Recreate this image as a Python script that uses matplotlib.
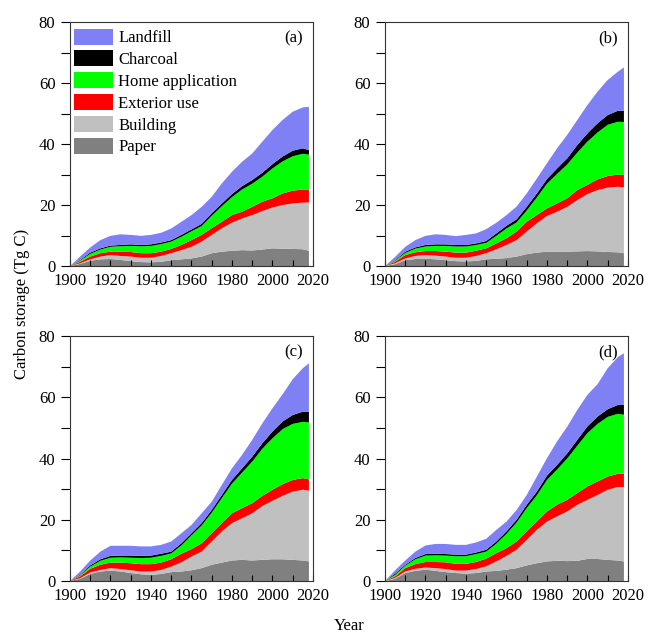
import matplotlib
matplotlib.use("Agg")
import matplotlib.pyplot as plt
import numpy as np
from matplotlib.ticker import MultipleLocator

plt.rcParams['font.family'] = ['Liberation Serif', 'DejaVu Serif']
plt.rcParams['font.size'] = 12

years = [1900, 1905, 1910, 1915, 1920, 1925, 1930, 1935, 1940, 1945, 1950, 1955,
         1960, 1965, 1970, 1975, 1980, 1985, 1990, 1995, 2000, 2005, 2010, 2015, 2018]

labels = ['Paper', 'Building', 'Exterior use', 'Home application', 'Charcoal', 'Landfill']
colors = ['#808080', '#c0c0c0', '#ff0000', '#00ff00', '#000000', '#8080f5']
panel_names = ['(a)', '(b)', '(c)', '(d)']

# stacked (cumulative) top of each layer, Tg C
# panel (a)
paper_a = [0, 0.7, 1.7, 2.2, 2.3, 2.0, 1.6, 1.3, 1.2, 1.4, 1.9, 2.2, 2.5, 3.1, 4.2, 4.7, 5.0, 5.2, 5.1, 5.4, 5.8, 5.7, 5.6, 5.5, 5.0]
building_a = [0, 0.9, 2.2, 3.1, 3.6, 3.3, 3.1, 2.7, 2.7, 3.3, 4.2, 5.2, 6.3, 8.0, 10.2, 12.4, 14.2, 15.6, 16.7, 18.0, 19.2, 20.0, 20.5, 20.8, 20.8]
exterior_a = [0, 1.4, 3.1, 4.2, 4.7, 4.7, 4.6, 4.2, 4.2, 4.7, 5.6, 6.9, 8.5, 10.2, 12.4, 14.5, 16.7, 17.8, 19.4, 21.1, 22.2, 23.8, 24.7, 25.1, 24.9]
home_a = [0, 1.8, 4.0, 5.4, 6.3, 6.5, 6.6, 6.5, 6.6, 7.2, 8.0, 9.6, 11.4, 13.1, 16.5, 19.6, 22.6, 25.1, 27.0, 29.3, 32.0, 34.3, 36.0, 36.8, 36.5]
charcoal_a = [0, 2.0, 4.4, 5.8, 6.7, 6.9, 7.1, 6.9, 7.1, 7.7, 8.5, 10.2, 12.0, 13.8, 17.3, 20.5, 23.6, 26.2, 28.2, 30.6, 33.4, 35.9, 37.8, 38.6, 38.0]
landfill_a = [0, 3.1, 6.1, 8.5, 9.9, 10.4, 10.2, 9.9, 10.2, 10.9, 12.3, 14.5, 16.7, 19.4, 22.7, 27.1, 30.9, 34.2, 36.9, 40.8, 44.6, 47.9, 50.6, 52.0, 52.2]

# panel (b)
paper_b = [0, 0.6, 1.9, 2.3, 2.4, 2.2, 1.9, 1.6, 1.5, 1.7, 2.2, 2.4, 2.6, 3.1, 3.9, 4.4, 4.7, 4.6, 4.7, 4.8, 4.9, 4.8, 4.6, 4.5, 4.2]
building_b = [0, 0.9, 2.5, 3.3, 3.6, 3.4, 3.1, 2.7, 2.7, 3.3, 4.2, 5.5, 6.9, 8.5, 11.3, 14.0, 16.4, 17.8, 19.4, 21.6, 23.6, 24.9, 25.7, 26.0, 25.8]
exterior_b = [0, 1.4, 3.6, 4.5, 4.9, 4.9, 4.7, 4.4, 4.4, 5.0, 5.8, 7.4, 9.1, 11.3, 14.5, 16.7, 18.9, 20.5, 22.2, 24.9, 26.6, 28.4, 29.5, 30.0, 29.8]
home_b = [0, 1.7, 4.3, 5.7, 6.4, 6.6, 6.6, 6.4, 6.4, 6.9, 7.6, 9.9, 12.3, 14.3, 18.2, 22.5, 27.0, 30.2, 33.3, 37.2, 40.8, 43.8, 46.3, 47.3, 47.2]
charcoal_b = [0, 1.9, 4.7, 6.1, 6.9, 7.1, 7.1, 6.9, 6.9, 7.4, 8.2, 10.7, 13.2, 15.3, 19.4, 23.8, 28.5, 32.0, 35.3, 39.7, 43.5, 46.8, 49.5, 50.9, 50.9]
landfill_b = [0, 3.0, 6.3, 8.5, 9.9, 10.4, 10.2, 9.8, 10.2, 10.7, 12.1, 14.2, 16.7, 19.5, 23.8, 28.7, 33.7, 38.6, 43.0, 47.9, 52.8, 57.2, 61.0, 63.7, 65.1]

# panel (c)
paper_c = [0, 0.7, 2.3, 3.1, 3.4, 3.1, 2.6, 2.2, 2.0, 2.3, 2.9, 3.1, 3.5, 4.2, 5.3, 6.0, 6.7, 6.9, 6.7, 6.9, 7.1, 7.1, 6.9, 6.7, 6.4]
building_c = [0, 0.9, 2.8, 3.6, 4.2, 3.9, 3.5, 3.1, 3.1, 3.6, 4.7, 6.1, 8.0, 9.6, 12.9, 16.2, 18.9, 20.5, 22.1, 24.5, 26.2, 27.8, 29.2, 29.8, 29.5]
exterior_c = [0, 1.5, 4.0, 5.3, 6.0, 6.0, 5.8, 5.5, 5.5, 6.0, 7.1, 8.9, 10.4, 12.3, 15.6, 18.9, 22.1, 23.8, 25.4, 27.8, 29.8, 31.6, 33.0, 33.6, 33.2]
home_c = [0, 1.8, 4.7, 6.6, 7.6, 7.7, 7.6, 7.5, 7.6, 8.2, 9.0, 11.6, 14.9, 18.1, 22.3, 27.1, 31.8, 35.4, 39.0, 43.2, 46.6, 49.6, 51.3, 52.0, 51.8]
charcoal_c = [0, 2.0, 5.1, 7.1, 8.2, 8.3, 8.3, 8.2, 8.3, 8.9, 9.6, 12.3, 15.6, 18.9, 23.2, 28.1, 33.0, 36.8, 40.6, 45.0, 48.8, 52.1, 54.2, 55.3, 55.3]
landfill_c = [0, 3.1, 6.7, 9.6, 11.5, 11.5, 11.5, 11.3, 11.3, 11.8, 12.9, 15.6, 18.3, 22.1, 25.9, 31.4, 36.8, 41.2, 46.1, 51.5, 56.4, 61.0, 65.9, 69.5, 71.1]

# panel (d)
paper_d = [0, 0.7, 2.6, 3.3, 3.7, 3.3, 2.9, 2.6, 2.4, 2.6, 3.1, 3.3, 3.7, 4.2, 5.1, 5.8, 6.4, 6.6, 6.5, 6.6, 7.2, 7.2, 6.9, 6.7, 6.4]
building_d = [0, 1.0, 3.1, 4.0, 4.4, 4.2, 3.9, 3.4, 3.4, 3.9, 4.8, 6.4, 8.2, 10.2, 13.4, 16.7, 19.4, 21.1, 22.7, 24.9, 26.5, 28.1, 29.8, 30.7, 30.7]
exterior_d = [0, 1.5, 4.2, 5.5, 6.2, 6.2, 6.1, 5.6, 5.6, 6.2, 7.3, 9.1, 10.7, 12.9, 16.2, 19.4, 22.7, 24.9, 26.5, 28.7, 30.9, 32.5, 34.1, 35.0, 35.0]
home_d = [0, 2.0, 5.0, 7.1, 8.3, 8.4, 8.3, 8.1, 8.1, 8.8, 9.6, 12.2, 15.4, 19.1, 23.8, 28.0, 33.0, 36.4, 40.0, 44.2, 48.3, 51.3, 53.6, 54.6, 54.3]
charcoal_d = [0, 2.4, 5.3, 7.5, 8.8, 8.9, 8.8, 8.6, 8.6, 9.3, 10.2, 12.9, 16.2, 20.0, 24.9, 29.2, 34.4, 37.9, 41.7, 46.1, 50.5, 53.7, 56.1, 57.5, 57.5]
landfill_d = [0, 3.5, 6.7, 9.6, 11.6, 12.1, 12.1, 11.8, 11.8, 12.6, 13.8, 16.7, 19.4, 23.2, 28.1, 34.1, 40.1, 45.6, 50.4, 55.9, 60.8, 64.3, 69.5, 73.1, 74.4]

panels = [
    [paper_a, building_a, exterior_a, home_a, charcoal_a, landfill_a],
    [paper_b, building_b, exterior_b, home_b, charcoal_b, landfill_b],
    [paper_c, building_c, exterior_c, home_c, charcoal_c, landfill_c],
    [paper_d, building_d, exterior_d, home_d, charcoal_d, landfill_d],
]

fig = plt.figure(figsize=(6.5, 6.34), dpi=100)
positions = [
    [0.1077, 0.5804, 0.3738, 0.3849],
    [0.5923, 0.5804, 0.3738, 0.3849],
    [0.1077, 0.0836, 0.3738, 0.3864],
    [0.5923, 0.0836, 0.3738, 0.3864],
]

for k in range(4):
    ax = fig.add_axes(positions[k])
    tops = np.array(panels[k], dtype=float)
    # layer thickness from the stacked levels
    layers = np.diff(np.vstack([np.zeros(len(years)), tops]), axis=0)
    ax.stackplot(years, layers, colors=colors, labels=labels, linewidth=0)
    ax.set_xlim(1900, 2020)
    ax.set_ylim(0, 80)
    ax.xaxis.set_major_locator(MultipleLocator(20))
    ax.xaxis.set_minor_locator(MultipleLocator(10))
    ax.yaxis.set_major_locator(MultipleLocator(20))
    ax.yaxis.set_minor_locator(MultipleLocator(10))
    ax.tick_params(axis='x', which='both', direction='in', length=4, width=0.8, pad=5)
    ax.tick_params(axis='y', which='both', direction='out', length=6.5, width=0.8, pad=4)
    for s in ax.spines.values():
        s.set_linewidth(0.8)
        s.set_color('#333333')
    ax.text(0.96, 0.965, panel_names[k], transform=ax.transAxes, ha='right', va='top')
    if k == 0:
        h, l = ax.get_legend_handles_labels()
        ax.legend(h[::-1], l[::-1], loc='upper left', bbox_to_anchor=(0.01, 0.98),
                  frameon=False, handlelength=2.35, handleheight=1.1,
                  labelspacing=0.25, handletextpad=0.3, borderpad=0.1, borderaxespad=0)

fig.text(0.034, 0.52, 'Carbon storage (Tg C)', rotation=90, ha='center', va='center')
fig.text(0.537, 0.012, 'Year', ha='center', va='center')

fig.savefig('out.png', dpi=100)
